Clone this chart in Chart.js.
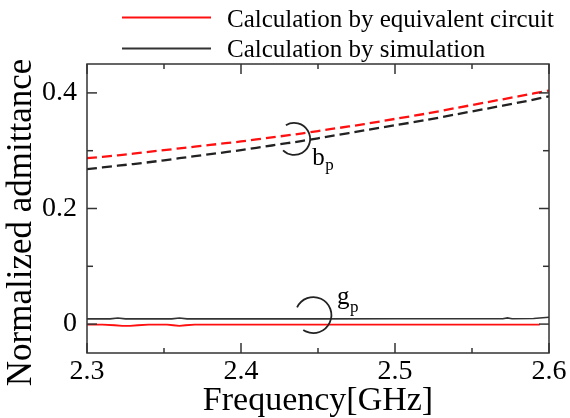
<!DOCTYPE html>
<html><head><meta charset="utf-8">
<style>html,body{margin:0;padding:0;background:#fff;} #wrap{width:570px;height:418px;}</style>
<script src="https://cdn.jsdelivr.net/npm/chart.js@4.4.1/dist/chart.umd.min.js"></script>
</head><body><div id="wrap"><canvas id="c" width="570" height="418"></canvas></div>
<script>
// ---- data ----
const freqBp = [2.30,2.32,2.34,2.36,2.38,2.40,2.42,2.44,2.46,2.48,2.50,2.52,2.54,2.56,2.58,2.60];
const bpCircuit = [0.287,0.292,0.298,0.304,0.310,0.316,0.323,0.330,0.338,0.346,0.355,0.364,0.374,0.384,0.394,0.404];
const bpSimulation = [0.268,0.274,0.280,0.287,0.294,0.301,0.309,0.317,0.326,0.335,0.344,0.353,0.363,0.373,0.383,0.394];
const freqGpCircuit = [2.300,2.310,2.318,2.323,2.328,2.333,2.340,2.352,2.356,2.360,2.364,2.370,2.400,2.450,2.500,2.550,2.594];
const gpCircuit = [-0.001,-0.001,-0.002,-0.003,-0.003,-0.002,-0.001,-0.001,-0.002,-0.003,-0.002,-0.001,-0.001,-0.001,-0.001,-0.001,-0.001];
const freqGpSim = [2.300,2.315,2.320,2.325,2.355,2.360,2.365,2.400,2.450,2.500,2.550,2.570,2.573,2.576,2.590,2.600];
const gpSimulation = [0.0090,0.0090,0.0105,0.0090,0.0090,0.0105,0.0090,0.0090,0.0090,0.0092,0.0092,0.0092,0.0108,0.0092,0.0098,0.0118];
const xTickValues = [2.30,2.35,2.40,2.45,2.50,2.55,2.60];
const xTickLabels = ['2.3','','2.4','','2.5','','2.6'];
const yTickValues = [0,0.1,0.2,0.3,0.4];
const yTickLabels = ['0','','0.2','','0.4'];
const seriesLabels = ['Calculation by equivalent circuit','Calculation by simulation'];
const yTitle = 'Normalized admittance';
const xTitle = 'Frequency[GHz]';
// annotation anchors (data coordinates)
const notes = [
  {text:'b', sub:'p', f:2.4345, v:0.3203, r:16, a0:-121, a1:134, tx:18, ty:26, sx:31, sy:31},
  {text:'g', sub:'p', f:2.4470, v:0.0156, r:18, a0:-155, a1:124, tx:23.5, ty:-11, sx:36.5, sy:-3}
];

const RED = '#ff1010', BLK = '#222';
const SERIF = '"Liberation Serif", "Times New Roman", serif';
const pts = (xs, ys) => xs.map((x,i)=>({x, y:ys[i]}));

const decor = {
  id:'decor',
  afterDatasetsDraw(chart){
    const {ctx, chartArea:a, scales:{x, y}} = chart;
    ctx.save();
    ctx.strokeStyle = '#333'; ctx.lineWidth = 1.5; ctx.setLineDash([]);
    ctx.strokeRect(a.left, a.top, a.right-a.left, a.bottom-a.top);
    const seg = (x1,y1,x2,y2)=>{ctx.beginPath();ctx.moveTo(x1,y1);ctx.lineTo(x2,y2);ctx.stroke();};
    xTickValues.forEach((v,i)=>{
      const px = x.getPixelForValue(v); const len = xTickLabels[i] ? 10 : 5;
      seg(px, a.bottom, px, a.bottom-len); seg(px, a.top, px, a.top+len);
    });
    yTickValues.forEach((v,i)=>{
      const py = y.getPixelForValue(v); const len = yTickLabels[i] ? 10 : 6;
      seg(a.left, py, a.left+len, py); seg(a.right, py, a.right-len, py);
    });
    // annotations
    ctx.strokeStyle = '#222'; ctx.lineWidth = 1.8; ctx.fillStyle = '#000';
    notes.forEach(n=>{
      const cx = x.getPixelForValue(n.f), cy = y.getPixelForValue(n.v);
      ctx.beginPath(); ctx.arc(cx, cy, n.r, n.a0*Math.PI/180, n.a1*Math.PI/180); ctx.stroke();
      ctx.textBaseline = 'alphabetic'; ctx.textAlign = 'left';
      ctx.font = '25px ' + SERIF; ctx.fillText(n.text, cx+n.tx, cy+n.ty);
      ctx.font = '17px ' + SERIF; ctx.fillText(n.sub, cx+n.sx, cy+n.sy);
    });
    ctx.restore();
  },
  afterDraw(chart){
    const ctx = chart.ctx;
    ctx.save();
    // legend, in the order of seriesLabels
    const items = chart.data.datasets.filter(d=>d.inLegend)
      .sort((p,q)=>seriesLabels.indexOf(p.label)-seriesLabels.indexOf(q.label));
    items.forEach((d,i)=>{
      const ly = 17.5 + i*31;
      ctx.strokeStyle = d.borderColor; ctx.lineWidth = 1.8; ctx.setLineDash([]);
      ctx.beginPath(); ctx.moveTo(122, ly); ctx.lineTo(211, ly); ctx.stroke();
      ctx.fillStyle = '#000'; ctx.font = '25px ' + SERIF; ctx.textAlign='left'; ctx.textBaseline='alphabetic';
      ctx.fillText(d.label, 227, 26.5 + i*30);
    });
    // y title
    ctx.translate(22, 222.5); ctx.rotate(-Math.PI/2);
    ctx.fillStyle = '#000'; ctx.font = '35px ' + SERIF; ctx.textAlign='center'; ctx.textBaseline='middle';
    ctx.fillText(yTitle, 0, 0);
    ctx.restore();
  }
};

new Chart(document.getElementById('c'), {
  type:'line',
  data:{ datasets:[
    {label:'bp '+seriesLabels[0], data:pts(freqBp,bpCircuit), borderColor:RED, borderWidth:2.3, borderDash:[10,5], pointRadius:0, tension:0.3, fill:false},
    {label:'bp '+seriesLabels[1], data:pts(freqBp,bpSimulation), borderColor:BLK, borderWidth:2.3, borderDash:[10,5], pointRadius:0, tension:0.3, fill:false},
    {label:seriesLabels[1], inLegend:true, data:pts(freqGpSim,gpSimulation), borderColor:'#333', borderWidth:1.6, pointRadius:0, tension:0, fill:false},
    {label:seriesLabels[0], inLegend:true, data:pts(freqGpCircuit,gpCircuit), borderColor:RED, borderWidth:1.8, pointRadius:0, tension:0, fill:false}
  ]},
  options:{
    responsive:false, animation:false, devicePixelRatio:1,
    layout:{padding:{top:64, right:21, left:0, bottom:0}},
    plugins:{legend:{display:false}, tooltip:{enabled:false}},
    scales:{
      x:{type:'linear', min:2.3, max:2.6,
        afterBuildTicks:s=>{s.ticks = xTickValues.map(v=>({value:v}));},
        afterFit:s=>{s.height = 65;},
        grid:{display:false, drawTicks:false}, border:{display:false},
        ticks:{autoSkip:false, maxRotation:0, padding:2, color:'#000', font:{family:SERIF, size:28}, callback:(v,i)=>xTickLabels[i]},
        title:{display:true, text:xTitle, color:'#000', font:{family:SERIF, size:34, lineHeight:1.0}, padding:0}
      },
      y:{type:'linear', min:-0.05, max:0.45,
        afterBuildTicks:s=>{s.ticks = yTickValues.map(v=>({value:v}));},
        afterFit:s=>{s.width = 87;},
        grid:{display:false, drawTicks:false}, border:{display:false},
        ticks:{autoSkip:false, padding:10, color:'#000', font:{family:SERIF, size:28}, callback:(v,i)=>yTickLabels[i]}
      }
    }
  },
  plugins:[decor]
});
</script></body></html>
